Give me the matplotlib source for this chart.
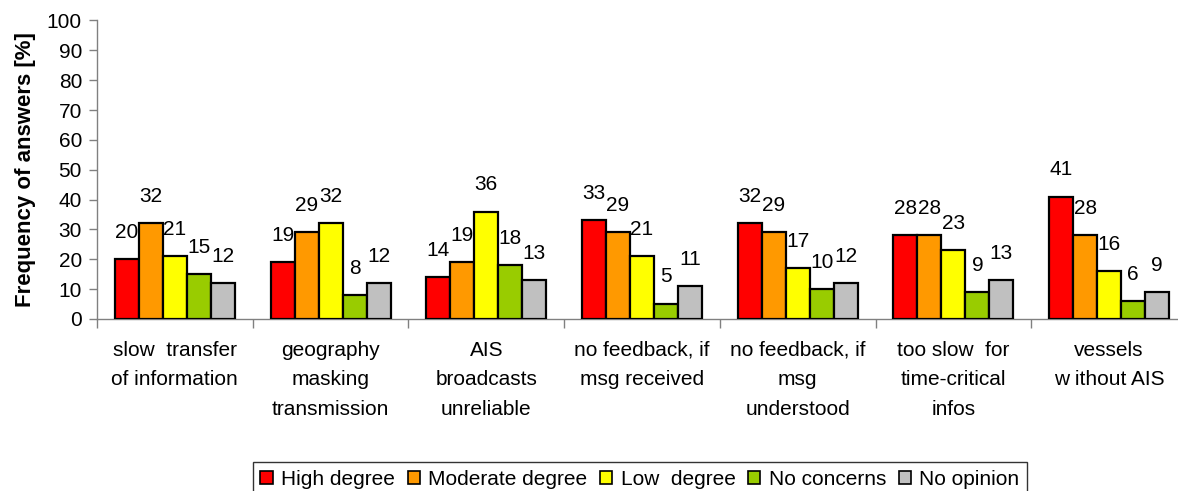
import matplotlib
matplotlib.use("Agg")
import matplotlib.pyplot as plt
import numpy as np
from matplotlib.patches import Patch

categories = [
    "slow  transfer\nof information",
    "geography\nmasking\ntransmission",
    "AIS\nbroadcasts\nunreliable",
    "no feedback, if\nmsg received",
    "no feedback, if\nmsg\nunderstood",
    "too slow  for\ntime-critical\ninfos",
    "vessels\nw ithout AIS",
]
series_names = ["High degree", "Moderate degree", "Low  degree", "No concerns", "No opinion"]
high_degree = [20, 19, 14, 33, 32, 28, 41]
moderate_degree = [32, 29, 19, 29, 29, 28, 28]
low_degree = [21, 32, 36, 21, 17, 23, 16]
no_concerns = [15, 8, 18, 5, 10, 9, 6]
no_opinion = [12, 12, 13, 11, 12, 13, 9]
y_ticks = list(range(0, 101, 10))

series_values = [high_degree, moderate_degree, low_degree, no_concerns, no_opinion]
colors = ["#FF0000", "#FF9900", "#FFFF00", "#99CC00", "#C0C0C0"]

plt.rcParams["font.family"] = ["Liberation Sans", "DejaVu Sans"]

W, H = 1178, 491
fig = plt.figure(figsize=(W / 100, H / 100), dpi=100)
ax = fig.add_axes([97 / W, 1 - 319 / H, 1090 / W, (319 - 20.5) / H])

x = np.arange(len(categories))
bw = 0.154
for i, (vals, col) in enumerate(zip(series_values, colors)):
    pos = x + (i - 2) * bw
    ax.bar(pos, vals, width=bw, color=col, edgecolor="black", linewidth=1.6, zorder=3)
    for px, v in zip(pos, vals):
        ax.annotate(f"{v}", (px, v), xytext=(0, 19.5), textcoords="offset points",
                    ha="center", va="center", fontsize=15)

ax.set_xlim(-0.5, len(categories) - 0.5)
ax.set_ylim(0, 100)
ax.set_yticks(y_ticks)
ax.tick_params(axis="y", labelsize=15, length=5.8, width=1, color="#808080", pad=5)

ax.set_xticks(x)
ax.set_xticklabels(categories, fontsize=15)
ax.tick_params(axis="x", which="major", length=0, pad=15.5)
for lbl in ax.get_xticklabels():
    lbl.set_linespacing(1.72)
ax.set_xticks(np.arange(-0.5, len(categories) + 0.5, 1), minor=True)
ax.tick_params(axis="x", which="minor", length=6.5, width=1, color="#808080")

for s in ["top", "right"]:
    ax.spines[s].set_visible(False)
for s in ["left", "bottom"]:
    ax.spines[s].set_color("#808080")
    ax.spines[s].set_linewidth(1)

ax.set_ylabel("Frequency of answers [%]", fontsize=16, fontweight="bold", labelpad=8)

handles = [Patch(facecolor=c, edgecolor="black", linewidth=1.2) for c in colors]
leg = fig.legend(handles, series_names, loc="lower center", bbox_to_anchor=(640 / W, -0.01),
                 ncol=5, fontsize=15, frameon=True, fancybox=False, edgecolor="black",
                 handlelength=0.58, handleheight=0.58, handletextpad=0.4, columnspacing=0.62,
                 borderpad=0.35, borderaxespad=0.0)
leg.get_frame().set_linewidth(1.0)

fig.savefig("out.png", dpi=100)
